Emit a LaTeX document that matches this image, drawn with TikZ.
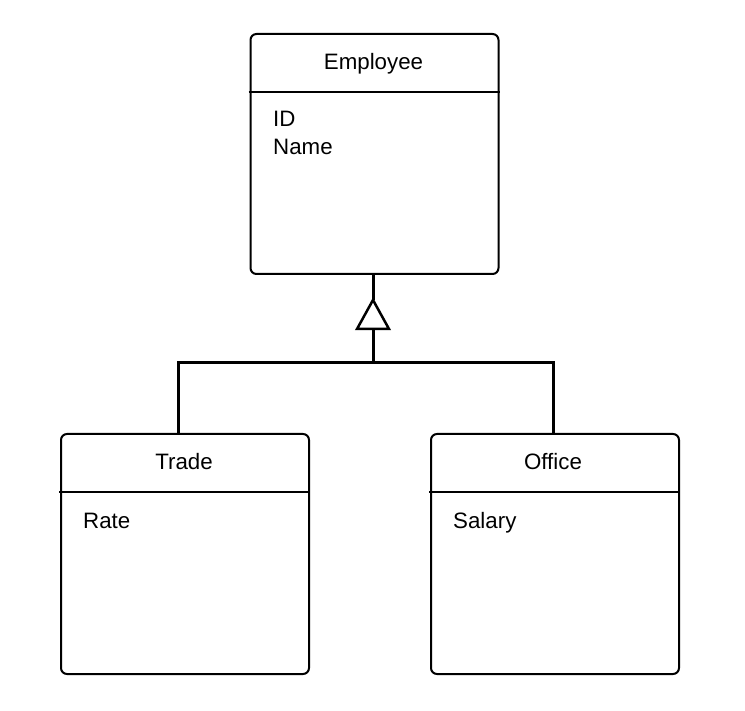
\documentclass[tikz,border=0pt]{standalone}
\usepackage{fontspec}
\setmainfont{Liberation Sans}
\usetikzlibrary{calc}
\begin{document}
\begin{tikzpicture}[x=1pt,y=-1pt,
  cls/.style={draw, line width=2pt, rounded corners=6pt, minimum width=248pt, minimum height=240pt, inner sep=0pt},
  divider/.style={line width=1.6pt},
  conn/.style={line width=3pt},
  lbl/.style={font=\fontsize{22.3}{27.5}\selectfont, inner sep=0pt, anchor=base},
  attr/.style={font=\fontsize{22.3}{27.5}\selectfont, inner sep=0pt, anchor=base west, align=left}]
\useasboundingbox (0,0) rectangle (745,711);
% class boxes
\node[cls] (emp) at (374.5,154) {};
\node[cls] (trade) at (185,554) {};
\node[cls] (office) at (555,554) {};
% dividers
\draw[divider] ($(emp.north west)+(-1,59)$) -- ($(emp.north east)+(0,59)$);
\draw[divider] ($(trade.north west)+(-1,59)$) -- ($(trade.north east)+(0,59)$);
\draw[divider] ($(office.north west)+(-1,59)$) -- ($(office.north east)+(0,59)$);
% texts
\node[lbl] (empname) at (373.5,70) {Employee};
\node[attr] (empid) at (273,127) {ID};
\node[attr] (empnm) at (273,155) {Name};
\node[lbl] (tradename) at (184,470) {Trade};
\node[attr] (tradeattr) at (83,528) {Rate};
\node[lbl] (officename) at (553,470) {Office};
\node[attr] (officeattr) at (453,528) {Salary};
% generalization
\coordinate (apex) at (373,300);
\coordinate (bl) at (357,329);
\coordinate (br) at (389,329);
\coordinate (bm) at (373,329);
\coordinate (j) at (373,363);
\coordinate (tl) at ($(trade.north)+(-7,0)$);
\coordinate (ol) at ($(office.north)+(-2,0)$);
\draw[conn] (emp.south -| apex) -- (apex);
\draw[line width=2.5pt, line join=miter] (apex) -- (br) -- (bl) -- cycle;
\draw[conn] (bm) -- (j);
\draw[conn] (tl) |- (j) -| (ol);
\end{tikzpicture}
\end{document}
